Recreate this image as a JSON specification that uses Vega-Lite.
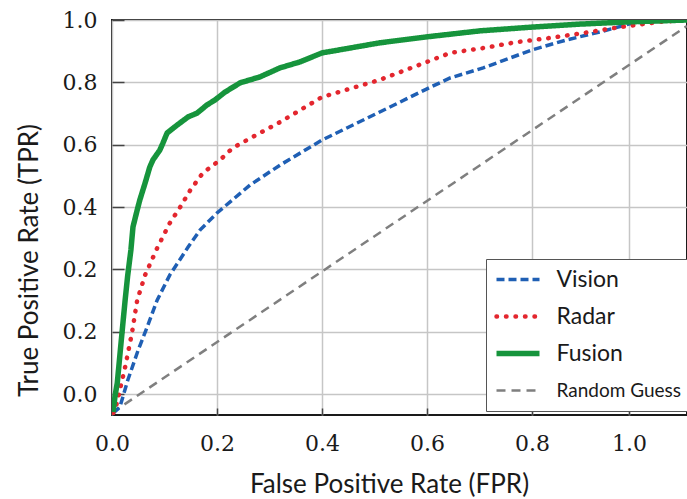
{
  "$schema": "https://vega.github.io/schema/vega-lite/v6.json",
  "width": 575,
  "height": 395,
  "autosize": {"type": "none"},
  "padding": {"left": 112, "top": 20, "right": 0, "bottom": 84},
  "background": "white",
  "config": {
    "view": {"stroke": "#1a1a1a", "strokeWidth": 2},
    "axis": {
      "domain": false,
      "grid": true,
      "gridColor": "#c6c6c6",
      "gridWidth": 1.5,
      "tickColor": "#444444",
      "tickWidth": 1.5,
      "labelFont": "DejaVu Serif",
      "labelFontSize": 22,
      "labelColor": "#1a1a1a",
      "titleFont": "Lato",
      "titleFontSize": 26,
      "titleFontWeight": "normal",
      "titleColor": "#1a1a1a"
    }
  },
  "datasets": {
    "roc": [
      {"series": "Random Guess", "fpr": 0.0, "tpr": -0.05},
      {"series": "Random Guess", "fpr": 1.12, "tpr": 0.984},

      {"series": "Vision", "fpr": 0.002, "tpr": -0.051},
      {"series": "Vision", "fpr": 0.015, "tpr": -0.035},
      {"series": "Vision", "fpr": 0.030, "tpr": 0.037},
      {"series": "Vision", "fpr": 0.050, "tpr": 0.118},
      {"series": "Vision", "fpr": 0.067, "tpr": 0.179},
      {"series": "Vision", "fpr": 0.086, "tpr": 0.251},
      {"series": "Vision", "fpr": 0.110, "tpr": 0.318},
      {"series": "Vision", "fpr": 0.145, "tpr": 0.393},
      {"series": "Vision", "fpr": 0.168, "tpr": 0.439},
      {"series": "Vision", "fpr": 0.200, "tpr": 0.484},
      {"series": "Vision", "fpr": 0.263, "tpr": 0.559},
      {"series": "Vision", "fpr": 0.320, "tpr": 0.612},
      {"series": "Vision", "fpr": 0.400, "tpr": 0.679},
      {"series": "Vision", "fpr": 0.510, "tpr": 0.754},
      {"series": "Vision", "fpr": 0.600, "tpr": 0.816},
      {"series": "Vision", "fpr": 0.644, "tpr": 0.845},
      {"series": "Vision", "fpr": 0.707, "tpr": 0.872},
      {"series": "Vision", "fpr": 0.800, "tpr": 0.920},
      {"series": "Vision", "fpr": 0.872, "tpr": 0.947},
      {"series": "Vision", "fpr": 0.940, "tpr": 0.968},
      {"series": "Vision", "fpr": 1.008, "tpr": 0.992},
      {"series": "Vision", "fpr": 1.064, "tpr": 0.997},
      {"series": "Vision", "fpr": 1.120, "tpr": 1.0},

      {"series": "Radar", "fpr": 0.002, "tpr": -0.051},
      {"series": "Radar", "fpr": 0.006, "tpr": -0.043},
      {"series": "Radar", "fpr": 0.015, "tpr": 0.011},
      {"series": "Radar", "fpr": 0.025, "tpr": 0.072},
      {"series": "Radar", "fpr": 0.038, "tpr": 0.163},
      {"series": "Radar", "fpr": 0.048, "tpr": 0.251},
      {"series": "Radar", "fpr": 0.063, "tpr": 0.318},
      {"series": "Radar", "fpr": 0.086, "tpr": 0.390},
      {"series": "Radar", "fpr": 0.110, "tpr": 0.457},
      {"series": "Radar", "fpr": 0.130, "tpr": 0.500},
      {"series": "Radar", "fpr": 0.149, "tpr": 0.545},
      {"series": "Radar", "fpr": 0.173, "tpr": 0.591},
      {"series": "Radar", "fpr": 0.206, "tpr": 0.626},
      {"series": "Radar", "fpr": 0.230, "tpr": 0.658},
      {"series": "Radar", "fpr": 0.257, "tpr": 0.679},
      {"series": "Radar", "fpr": 0.320, "tpr": 0.727},
      {"series": "Radar", "fpr": 0.400, "tpr": 0.794},
      {"series": "Radar", "fpr": 0.510, "tpr": 0.840},
      {"series": "Radar", "fpr": 0.600, "tpr": 0.888},
      {"series": "Radar", "fpr": 0.644, "tpr": 0.912},
      {"series": "Radar", "fpr": 0.707, "tpr": 0.925},
      {"series": "Radar", "fpr": 0.771, "tpr": 0.941},
      {"series": "Radar", "fpr": 0.837, "tpr": 0.952},
      {"series": "Radar", "fpr": 0.905, "tpr": 0.965},
      {"series": "Radar", "fpr": 0.981, "tpr": 0.981},
      {"series": "Radar", "fpr": 1.064, "tpr": 0.995},
      {"series": "Radar", "fpr": 1.120, "tpr": 1.0},

      {"series": "Fusion", "fpr": 0.002, "tpr": -0.048},
      {"series": "Fusion", "fpr": 0.006, "tpr": -0.003},
      {"series": "Fusion", "fpr": 0.010, "tpr": 0.029},
      {"series": "Fusion", "fpr": 0.015, "tpr": 0.104},
      {"series": "Fusion", "fpr": 0.019, "tpr": 0.163},
      {"series": "Fusion", "fpr": 0.025, "tpr": 0.251},
      {"series": "Fusion", "fpr": 0.030, "tpr": 0.318},
      {"series": "Fusion", "fpr": 0.036, "tpr": 0.385},
      {"series": "Fusion", "fpr": 0.040, "tpr": 0.447},
      {"series": "Fusion", "fpr": 0.048, "tpr": 0.492},
      {"series": "Fusion", "fpr": 0.053, "tpr": 0.519},
      {"series": "Fusion", "fpr": 0.063, "tpr": 0.564},
      {"series": "Fusion", "fpr": 0.072, "tpr": 0.607},
      {"series": "Fusion", "fpr": 0.078, "tpr": 0.626},
      {"series": "Fusion", "fpr": 0.091, "tpr": 0.652},
      {"series": "Fusion", "fpr": 0.097, "tpr": 0.671},
      {"series": "Fusion", "fpr": 0.105, "tpr": 0.698},
      {"series": "Fusion", "fpr": 0.124, "tpr": 0.719},
      {"series": "Fusion", "fpr": 0.145, "tpr": 0.741},
      {"series": "Fusion", "fpr": 0.162, "tpr": 0.751},
      {"series": "Fusion", "fpr": 0.181, "tpr": 0.773},
      {"series": "Fusion", "fpr": 0.196, "tpr": 0.786},
      {"series": "Fusion", "fpr": 0.215, "tpr": 0.807},
      {"series": "Fusion", "fpr": 0.244, "tpr": 0.832},
      {"series": "Fusion", "fpr": 0.282, "tpr": 0.848},
      {"series": "Fusion", "fpr": 0.320, "tpr": 0.872},
      {"series": "Fusion", "fpr": 0.358, "tpr": 0.888},
      {"series": "Fusion", "fpr": 0.400, "tpr": 0.912},
      {"series": "Fusion", "fpr": 0.453, "tpr": 0.925},
      {"series": "Fusion", "fpr": 0.510, "tpr": 0.939},
      {"series": "Fusion", "fpr": 0.600, "tpr": 0.955},
      {"series": "Fusion", "fpr": 0.701, "tpr": 0.971},
      {"series": "Fusion", "fpr": 0.800, "tpr": 0.981},
      {"series": "Fusion", "fpr": 0.899, "tpr": 0.989},
      {"series": "Fusion", "fpr": 1.000, "tpr": 0.995},
      {"series": "Fusion", "fpr": 1.120, "tpr": 1.0}
    ]
  },
  "data": {"name": "roc"},
  "encoding": {
    "x": {
      "field": "fpr",
      "type": "quantitative",
      "scale": {"domain": [0, 0.8, 1.0, 1.12], "range": [0, 420, 517, 575], "nice": false, "zero": false},
      "axis": {
        "title": "False Positive Rate (FPR)",
        "values": [0, 0.2, 0.4, 0.6, 0.8, 1.0],
        "format": ".1f",
        "tickSize": -7,
        "labelPadding": 25,
        "labelOverlap": false,
        "labelFlush": false,
        "titleX": 277,
        "titleY": 77,
        "titleAlign": "center",
        "titleBaseline": "alphabetic"
      }
    },
    "y": {
      "field": "tpr",
      "type": "quantitative",
      "scale": {"domain": [-0.056, 1.0], "nice": false, "zero": false},
      "axis": {
        "title": "True Positive Rate (TPR)",
        "values": [0, 0.166667, 0.333333, 0.5, 0.666667, 0.833333, 1],
        "labelExpr": "['0.0','0.2','0.2','0.4','0.6','0.8','1.0'][round(datum.value*6)]",
        "tickSize": -12,
        "labelPadding": 27,
        "labelOverlap": false,
        "labelFlush": false,
        "titleX": -75,
        "titleY": 240,
        "titleAngle": -90,
        "titleAlign": "center",
        "titleBaseline": "alphabetic"
      }
    },
    "color": {
      "field": "series",
      "type": "nominal",
      "scale": {"domain": ["Vision", "Radar", "Fusion", "Random Guess"], "range": ["#1f5fb4", "#e3262e", "#16943c", "#7f7f7f"]},
      "legend": {
        "title": null,
        "orient": "none",
        "legendX": 374,
        "legendY": 239,
        "symbolType": "stroke",
        "symbolSize": 1849,
        "labelFont": "Lato",
        "labelFontSize": 23,
        "labelColor": "#1a1a1a",
        "labelOffset": 14,
        "clipHeight": 26,
        "rowPadding": 11,
        "padding": 7.5,
        "strokeColor": "#555555",
        "fillColor": "white",
        "encode": {
          "labels": {"update": {"fontSize": {"signal": "datum.label === 'Random Guess' ? 19 : 23"}}},
          "symbols": {"update": {"strokeCap": {"signal": "datum.value === 'Radar' ? 'round' : 'butt'"}}}
        }
      }
    },
    "strokeDash": {
      "field": "series",
      "type": "nominal",
      "scale": {"domain": ["Vision", "Radar", "Fusion", "Random Guess"], "range": [[8, 4], [0.5, 9], [1, 0], [9, 6]]}
    },
    "strokeWidth": {
      "field": "series",
      "type": "nominal",
      "scale": {"type": "ordinal", "domain": ["Vision", "Radar", "Fusion", "Random Guess"], "range": [3.5, 4.5, 5.5, 2.5]}
    }
  },
  "layer": [
    {
      "transform": [{"filter": "datum.series === 'Random Guess' || datum.series === 'Vision'"}],
      "mark": {"type": "line", "strokeCap": "butt", "clip": true}
    },
    {
      "transform": [{"filter": "datum.series === 'Radar'"}],
      "mark": {"type": "line", "strokeCap": "round", "clip": true}
    },
    {
      "transform": [{"filter": "datum.series === 'Fusion'"}],
      "mark": {"type": "line", "strokeCap": "butt", "strokeJoin": "round", "clip": true}
    }
  ]
}
